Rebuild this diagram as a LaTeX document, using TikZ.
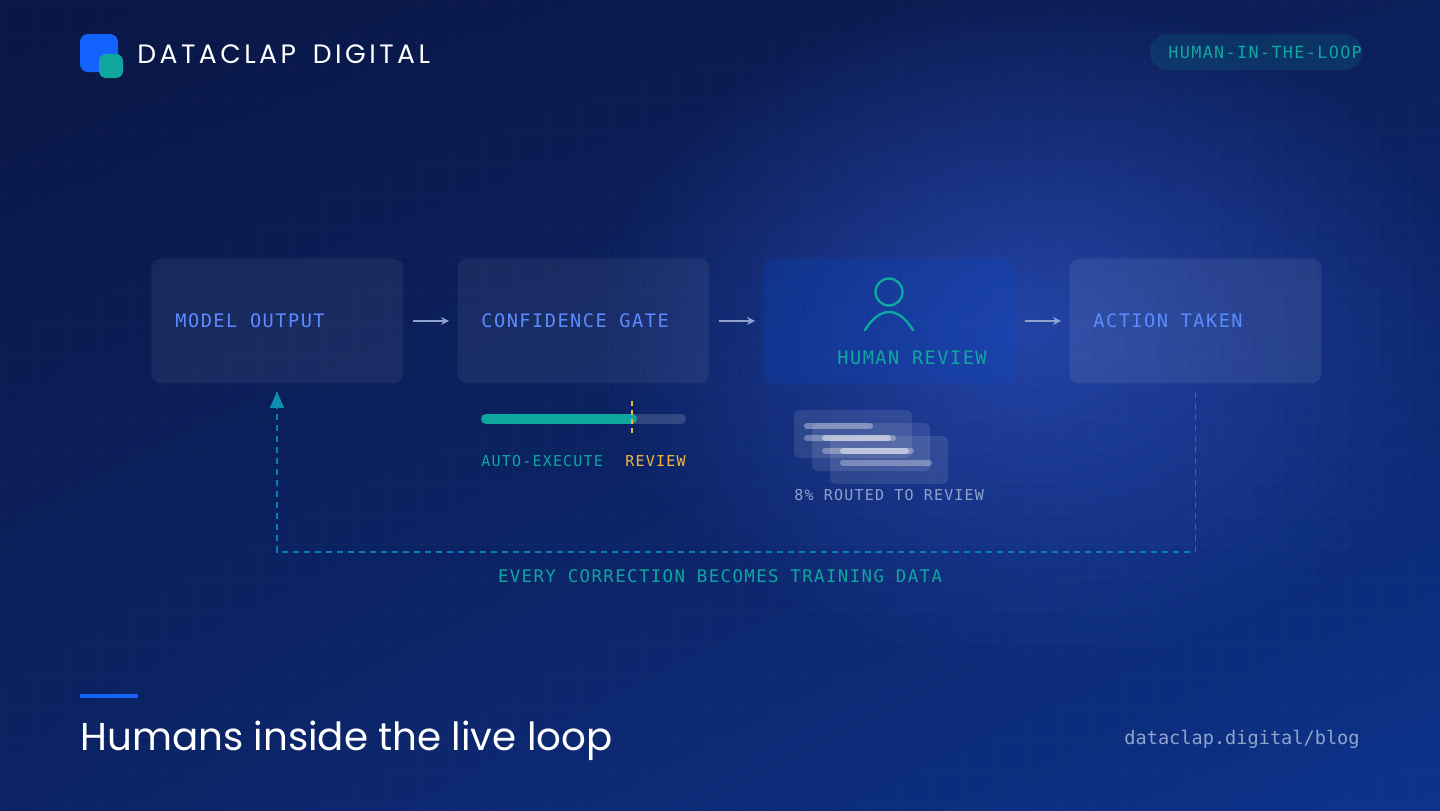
\documentclass[tikz,border=0pt]{standalone}
\usepackage{fontspec}
\setmainfont{Poppins}
\newfontfamily\monofont[LetterSpace=8]{DejaVu Sans Mono}
\newfontfamily\plainmono{DejaVu Sans Mono}
\newfontfamily\brandfont[LetterSpace=13,WordSpace=1.6]{Poppins}
\usetikzlibrary{arrows.meta,positioning,calc,fadings,shadings}
\definecolor{bgA}{HTML}{0A1644}
\definecolor{bgB}{HTML}{0D338C}
\definecolor{glow}{HTML}{3458D0}
\definecolor{teal}{HTML}{10A6A0}
\definecolor{lblue}{HTML}{5B8CFF}
\definecolor{brandblue}{HTML}{1463FF}
\definecolor{gold}{HTML}{F5B73B}
\definecolor{muted}{HTML}{8FA3CC}
\tikzfading[name=glowfade, inner color=transparent!0, outer color=transparent!100]
\tikzset{
  stage/.style={rounded corners=5pt, fill=white, fill opacity=0.06, text opacity=1,
    minimum width=126pt, minimum height=62.5pt, anchor=north west,
    align=left, inner sep=0pt},
  stagetxt/.style={font=\monofont\fontsize{9.3}{11}\selectfont, text=lblue, anchor=west, inner sep=0pt},
  flow/.style={-{Stealth[length=4pt,width=4pt]}, draw=muted, line width=0.7pt},
  small/.style={font=\monofont\fontsize{7.5}{9}\selectfont},
  card/.style={rounded corners=3pt, fill=white, fill opacity=0.1},
  cline/.style={line cap=round, line width=3pt, draw=white},
}
\begin{document}
\begin{tikzpicture}[x=0.5pt,y=-0.5pt]
  % background
  \useasboundingbox (0,0) rectangle (1440,810);
  \shade[upper left=bgA, lower right=bgB, upper right=bgA!70!bgB, lower left=bgA!55!bgB] (0,0) rectangle (1440,810);
  \fill[glow, path fading=glowfade, opacity=0.6] (1030,330) ellipse (440 and 340);
  \foreach \gx in {0,32,...,1440} \draw[white, opacity=0.02, line width=0.4pt] (\gx,0) -- (\gx,810);
  \foreach \gy in {0,32,...,810} \draw[white, opacity=0.02, line width=0.4pt] (0,\gy) -- (1440,\gy);

  % header
  \fill[brandblue, rounded corners=4pt] (80,34) rectangle (118,72);
  \fill[teal, rounded corners=3.5pt] (99,54) rectangle (123,78);
  \node[anchor=west, text=white, font=\brandfont\fontsize{13.3}{16}\selectfont, inner sep=0pt] (brand) at (137,54) {DATACLAP DIGITAL};
  \fill[teal, opacity=0.15, rounded corners=9pt] (1150,34) rectangle (1362,70);
  \node[text=teal, anchor=west, inner sep=0pt, font=\monofont\fontsize{8.4}{10}\selectfont] (badge) at (1168,52) {HUMAN-IN-THE-LOOP};

  % stages
  \node[stage] (model) at (151,258) {};
  \node[stage] (gate) at (457,258) {};
  \node[stage, fill=teal!45!blue, fill opacity=0.22] (review) at (763,258) {};
  \node[stage, fill opacity=0.08] (action) at (1069,258) {};
  \node[stagetxt] (modeltxt) at (175,321) {MODEL OUTPUT};
  \node[stagetxt] (gatetxt) at (481,321) {CONFIDENCE GATE};
  \node[stagetxt, text=teal] (reviewtxt) at (837,358) {HUMAN REVIEW};
  \node[stagetxt] (actiontxt) at (1093,321) {ACTION TAKEN};
  \draw[teal, line width=1.2pt] (889,292) circle (13.5);
  \draw[teal, line width=1.2pt, line cap=round] (865,330) .. controls (880,306) and (898,306) .. (913,330);
  \foreach \a/\b in {model/gate, gate/review, review/action}
    \draw[flow] ($(\a.east)+(9,0)$) -- ($(\b.west)+(-8,0)$);

  % confidence bar
  \draw[white, opacity=0.15, line cap=round, line width=5pt] (486,419) -- (681,419);
  \draw[teal, line cap=round, line width=5pt] (486,419) -- (632,419);
  \draw[gold, line width=0.9pt, dash pattern=on 2.5pt off 2pt] (632,401) -- (632,434);
  \node[small, text=teal, anchor=west, inner sep=0pt] (auto) at (481,461) {AUTO-EXECUTE};
  \node[small, text=gold, anchor=west, inner sep=0pt] (rev) at (625,461) {REVIEW};

  % routed cards
  \fill[card] (794,410) rectangle (912,458);
  \fill[card] (812,423) rectangle (930,471);
  \fill[card] (830,436) rectangle (948,484);
  \draw[cline, opacity=0.35] (807,426) -- (870,426);
  \draw[cline, opacity=0.3] (807,438) -- (893,438);
  \draw[cline, opacity=0.45] (825,438) -- (888,438);
  \draw[cline, opacity=0.3] (825,451) -- (911,451);
  \draw[cline, opacity=0.45] (843,451) -- (906,451);
  \draw[cline, opacity=0.3] (843,463) -- (929,463);
  \node[small, text=muted, anchor=west, inner sep=0pt] (routed) at (794,495) {8\% ROUTED TO REVIEW};

  % feedback loop
  \coordinate (loopA) at ($(action.south)+(0,8)$);
  \coordinate (loopB) at ($(model.south west)+(126,8)$);
  \draw[teal!75!blue, line width=0.8pt, dash pattern=on 3pt off 2.5pt]
    (loopA) -- ++(0,160) -| (loopB);
  \draw[-{Triangle[length=8pt,width=7pt]}, teal!85!blue, line width=0.8pt] ($(loopB)+(0,10)$) -- (loopB);
  \node[text=teal, font=\monofont\fontsize{8.7}{10}\selectfont] (loopTxt) at (720,576) {EVERY CORRECTION BECOMES TRAINING DATA};

  % footer
  \fill[brandblue] (80,694) rectangle (138,698);
  \node[anchor=west, text=white, font=\fontsize{19.4}{24}\selectfont, inner sep=0pt] (title) at (80,741) {Humans inside the live loop};
  \node[anchor=east, text=muted, font=\plainmono\fontsize{9.3}{11}\selectfont, inner sep=0pt] (url) at (1360,739) {dataclap.digital/blog};
\end{tikzpicture}
\end{document}
